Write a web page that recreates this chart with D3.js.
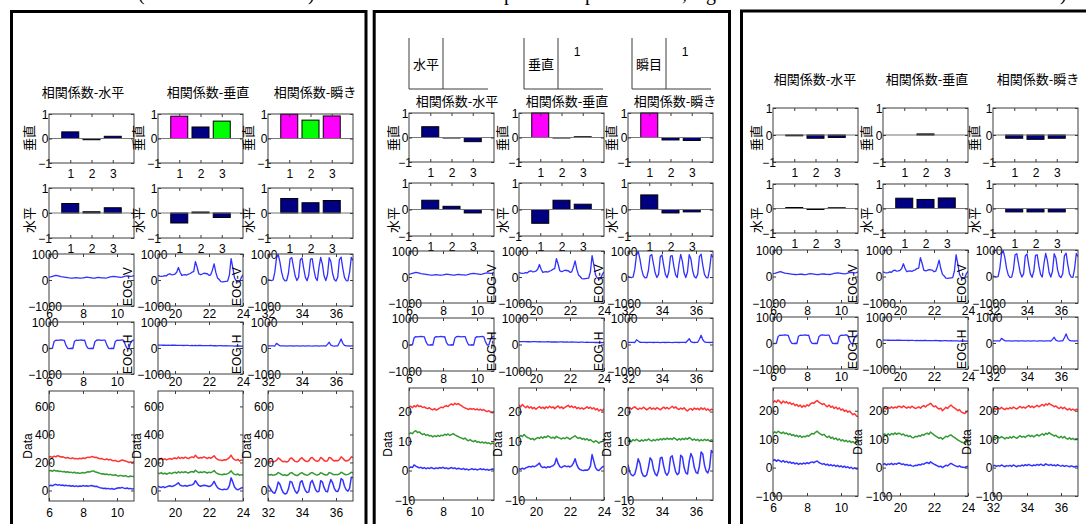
<!DOCTYPE html>
<html>
<head>
<meta charset="utf-8">
<script src="https://cdn.jsdelivr.net/npm/d3@7"></script>
<style>
  body { margin: 0; background: #fff; }
  svg text { font-family: "Liberation Sans", Arial, sans-serif; fill: #000; }
  svg text.jp { font-family: "Noto Sans CJK JP", sans-serif; }
</style>
</head>
<body>
<svg id="fig" width="1086" height="524"></svg>
<script>
// ---- chart values ----------------------------------------------------------
var colNames = ["相関係数-水平", "相関係数-垂直", "相関係数-瞬き"];
var barRowLabels = ["垂直", "水平"];
var barTicks = [1, 2, 3];
var eogRowLabels = ["EOG-V", "EOG-H"];
var windowStart = [6, 19, 32];                 // seconds, each window is 5 s
var timeTicks = [[6, 8, 10], [20, 22, 24], [32, 34, 36]];
var eogTicks = [-1000, 0, 1000];
var topLegendNames = ["水平", "垂直", "瞬目"];
var topLegendValues = ["", "1", "1"];
var captionGlyphs = ["(", ")", "p", "p", ",", "g", ")"];

// correlation coefficients: [row 垂直, row 水平] x column x bar
var corrA = [
  [[0.27, -0.05, 0.09], [0.91, 0.47, 0.71], [0.99, 0.75, 0.92]],
  [[0.38, 0.05, 0.21], [-0.40, 0.04, -0.18], [0.58, 0.41, 0.50]]
];
var corrB = [
  [[0.44, -0.02, -0.17], [1.0, -0.02, 0.03], [1.0, -0.10, -0.12]],
  [[0.35, 0.12, -0.13], [-0.52, 0.35, 0.20], [0.55, -0.13, -0.09]]
];
var corrC = [
  [[-0.03, -0.12, -0.09], [0.0, 0.04, 0.0], [-0.12, -0.16, -0.12]],
  [[0.04, -0.04, 0.03], [0.42, 0.37, 0.43], [-0.14, -0.14, -0.14]]
];

// EOG traces, one sample every 0.1 s
var eogV = [
  [110,120,140,160,180,170,150,130,120,110,100,90,80,75,70,80,90,85,75,70,80,95,110,100,90,80,70,75,90,100,95,85,80,75,85,100,120,130,140,130,120,110,100,110,130,150,160,150,140,150,170],
  [180,150,140,150,170,160,220,240,200,210,230,300,480,300,180,200,210,190,230,250,300,320,710,500,240,210,230,260,250,240,180,200,380,620,300,80,20,-60,-70,-60,-50,-40,200,820,480,80,-30,-80,-60,100,200],
  [20,0,-20,0,300,850,980,700,300,50,-30,-20,250,820,860,500,150,-20,100,780,850,450,100,-30,200,800,820,400,80,-20,500,870,600,150,-20,200,860,700,250,20,-40,100,780,880,450,100,-20,-30,300,870,750]
];
var eogH = [
  [-20,-20,-10,250,300,290,300,310,300,290,100,-10,-20,-10,-20,260,300,290,300,310,290,300,80,-10,-20,-10,-20,240,300,310,300,290,300,300,120,-10,-20,-10,-20,250,300,290,300,310,290,100,-20,-10,200,290,300],
  [110,108,112,106,110,104,108,102,106,110,105,100,104,98,102,96,100,104,98,95,99,94,98,92,96,100,95,90,94,88,92,96,90,86,90,84,88,92,86,82,86,80,84,78,82,76,80,74,78,72,76],
  [80,78,82,80,76,180,130,85,80,78,82,76,80,84,78,76,80,82,78,74,78,80,76,80,84,78,74,78,82,80,76,80,78,82,76,140,220,110,80,76,80,84,200,350,180,100,82,78,76,80,78]
];

// "Data" traces per panel (red, green, blue), one sample every 0.1 s
var dataA_R = [
  [238,242,236,245,240,248,244,239,241,236,232,235,230,228,233,226,229,224,230,227,232,228,234,238,236,242,240,235,237,230,226,229,222,220,225,218,222,216,212,215,208,206,212,218,214,210,206,200,204,198,205],
  [228,222,230,220,226,218,224,228,222,230,232,226,238,228,236,230,238,232,228,236,240,234,252,238,230,236,232,240,234,228,236,230,238,248,232,222,218,216,214,220,218,226,235,252,230,220,215,222,210,218,212],
  [212,206,210,204,208,215,232,224,212,205,208,203,210,228,232,218,208,204,210,226,234,220,210,206,212,230,236,222,212,208,214,236,228,214,208,212,236,232,218,210,214,212,220,240,230,216,210,214,222,240,236]
];
var dataA_G = [
  [140,143,137,145,139,141,136,138,133,136,130,134,128,131,126,130,124,127,122,125,128,124,130,134,132,138,140,134,130,126,122,118,120,114,117,112,115,110,108,112,106,104,108,105,102,106,100,98,103,99,101],
  [125,120,128,118,124,116,122,126,120,127,130,124,134,126,133,128,134,129,125,132,136,130,145,134,127,132,128,135,130,125,131,127,133,142,128,121,116,114,112,118,115,120,128,140,125,115,112,118,108,113,110],
  [115,110,114,108,112,116,128,122,114,108,112,106,112,124,128,118,110,106,112,122,128,118,112,108,113,124,128,120,113,110,115,127,122,114,110,113,128,124,116,112,115,113,118,130,124,116,112,115,120,130,127]
];
var dataA_B = [
  [32,38,34,40,44,38,42,36,39,34,37,33,36,30,34,29,33,28,32,30,35,31,34,30,33,36,32,28,30,24,20,18,14,16,12,15,10,14,8,12,16,20,18,22,17,14,18,12,15,10,14],
  [30,25,22,28,20,26,30,34,28,32,38,45,55,38,34,32,36,30,35,38,40,48,70,52,36,30,34,38,36,32,28,32,45,65,40,20,12,8,5,10,6,12,35,90,60,25,10,5,12,18,22],
  [40,20,0,-15,-20,10,60,45,10,-15,-25,-20,10,65,60,25,-5,-20,0,60,70,30,0,-15,-10,55,72,40,5,-10,-5,70,60,20,-5,-10,40,78,55,15,-5,-8,20,85,75,30,5,-5,15,95,90]
];
var dataB_R = [
  [21.5,21.8,21.3,22.0,21.6,22.2,21.7,21.9,21.4,21.6,21.2,21.0,21.3,20.8,20.6,21.0,20.5,20.8,21.2,21.5,21.3,21.8,22.0,21.7,22.3,22.6,22.2,22.8,22.4,22.7,22.3,21.9,21.5,21.2,21.0,20.7,21.1,20.8,21.0,20.6,20.9,20.5,20.8,20.4,20.7,20.2,20.0,20.3,19.8,19.6,19.9],
  [22.2,21.6,22.4,21.8,21.3,21.9,21.2,21.6,21.0,21.4,20.8,21.3,21.7,21.1,21.5,21.0,21.6,21.2,21.8,21.3,21.6,21.0,21.5,21.9,21.2,21.6,21.0,21.4,21.8,22.1,21.5,21.9,21.3,21.7,21.0,21.4,20.9,21.3,20.8,21.2,21.6,21.1,21.5,20.9,21.3,20.6,21.0,20.2,20.7,20.3,21.0],
  [21.0,21.4,20.8,21.3,21.6,21.1,20.7,21.2,20.9,21.5,21.1,20.6,21.0,21.4,20.8,21.2,20.7,21.3,21.0,20.6,21.1,21.5,21.0,21.4,20.9,21.3,21.8,21.2,21.6,21.0,20.7,21.2,20.8,21.3,20.6,20.2,20.8,21.0,20.5,21.2,20.8,21.1,20.6,21.3,20.7,21.2,20.5,20.9,20.3,20.8,20.6]
];
var dataB_G = [
  [12.3,12.8,12.5,13.2,13.5,12.9,13.1,12.6,12.2,12.5,11.9,12.2,11.7,11.9,11.4,11.8,11.5,11.9,11.6,12.0,11.8,12.3,12.0,12.4,11.9,12.2,12.5,12.1,11.8,11.5,11.2,11.0,10.7,11.0,10.4,10.1,10.5,10.0,9.8,10.2,9.6,9.8,9.4,9.7,9.3,9.6,9.2,9.4,9.0,9.3,9.1],
  [11.3,11.9,11.5,12.2,11.6,11.2,11.0,10.6,10.9,10.4,10.8,11.2,10.9,11.4,11.0,11.5,11.2,11.8,11.4,11.0,11.3,10.9,11.6,11.2,11.0,10.7,11.1,10.8,11.3,11.0,10.6,11.1,11.4,11.8,11.2,10.9,11.2,10.6,10.9,10.4,10.8,10.2,10.5,10.0,9.6,10.1,9.8,9.3,9.7,9.9,10.2],
  [10.0,10.4,9.8,10.5,10.1,10.6,10.2,9.9,10.4,10.0,10.5,10.2,10.7,10.3,10.0,10.5,10.1,10.6,10.3,10.8,10.4,10.9,10.5,11.0,10.6,10.9,10.5,11.1,10.7,10.3,10.8,10.4,10.9,10.5,11.0,10.6,11.2,10.8,10.3,10.7,10.2,10.6,10.0,10.5,10.1,10.6,10.2,10.5,10.0,10.4,10.2]
];
var dataB_B = [
  [0.8,1.2,1.0,1.9,1.5,1.2,0.9,1.1,0.7,1.0,0.6,0.9,0.7,1.0,0.8,0.6,0.9,0.7,1.0,0.8,1.1,0.7,0.9,0.6,0.8,1.0,0.7,0.9,0.5,0.8,0.6,0.4,0.7,0.3,0.5,0.2,0.4,0.6,0.3,0.5,0.2,0.4,0.6,0.3,0.5,0.2,0.4,0.1,0.3,0.5,0.4],
  [0.6,0.4,0.8,0.5,0.9,1.1,1.4,1.2,1.5,1.3,1.6,2.0,2.5,1.4,1.0,1.2,0.9,1.3,1.1,1.4,1.6,2.2,4.2,2.4,1.3,1.0,1.4,1.6,1.3,1.5,1.2,1.6,2.5,4.0,2.0,0.8,0.3,0.1,0.0,0.2,0.1,0.4,1.5,5.4,3.2,1.0,0.2,0.0,0.6,1.2,1.5],
  [2.0,-0.5,-1.5,-1.8,-1.2,1.0,4.0,2.5,-0.5,-1.8,-2.0,-1.5,1.0,4.3,3.5,0.5,-1.2,-1.8,0.0,4.2,4.5,1.5,-0.8,-1.6,-0.5,4.5,5.0,2.2,-0.4,-1.4,-0.8,5.2,4.6,1.0,-0.8,-1.2,3.0,5.8,4.4,1.0,-0.6,-1.0,1.5,6.3,5.6,1.8,-0.2,-0.8,1.0,6.8,6.0]
];
var dataC_R = [
  [228,235,230,238,232,226,234,228,232,225,229,222,226,218,222,215,220,212,218,214,221,217,224,228,226,232,236,230,226,222,225,218,214,220,212,216,208,213,206,210,202,206,198,202,195,199,192,186,190,182,178],
  [205,210,206,212,208,214,209,213,210,216,215,211,217,213,209,214,210,216,212,208,210,214,209,215,218,213,219,222,226,219,214,217,210,206,209,200,206,212,208,215,220,214,210,206,200,204,196,193,190,195,200],
  [203,208,205,210,206,212,207,204,209,206,211,207,213,209,206,211,215,210,213,209,214,218,212,216,211,215,219,214,218,222,217,224,220,226,221,219,214,217,211,208,213,207,212,206,203,208,202,206,201,205,203]
];
var dataC_G = [
  [120,126,122,128,124,120,125,119,122,116,119,113,116,110,114,108,112,106,110,108,113,110,116,120,118,124,128,122,118,114,117,110,106,111,103,107,100,104,97,101,94,98,92,96,90,94,88,92,86,90,88],
  [115,118,112,119,114,120,116,122,117,121,120,115,118,112,114,109,112,106,105,110,108,113,110,116,114,119,121,117,125,120,115,111,107,103,106,100,105,110,108,113,115,110,106,102,97,94,90,88,85,91,95],
  [102,106,103,108,104,109,105,101,106,103,108,104,110,106,103,108,112,107,110,106,111,114,109,113,108,112,116,111,115,119,114,121,117,123,118,115,111,114,108,105,110,104,109,103,100,105,99,103,98,102,100]
];
var dataC_B = [
  [24,28,22,27,24,20,25,19,22,17,20,15,18,13,16,11,15,12,16,13,17,14,18,20,17,21,23,18,15,12,14,9,12,7,10,6,9,4,8,3,6,1,5,0,3,-2,1,-4,-1,-5,-3],
  [10,14,9,13,11,15,10,14,12,16,15,11,13,9,11,7,9,6,5,8,7,11,9,13,12,16,18,14,20,16,12,9,6,3,5,0,4,8,6,11,15,11,8,5,3,6,2,1,0,3,5],
  [5,8,4,7,5,9,6,3,7,5,8,4,9,6,3,7,5,9,6,10,7,11,8,6,9,7,11,8,12,9,7,13,10,8,11,7,9,6,10,7,5,8,4,7,5,3,6,4,2,5,3]
];
var dataDomains = [[-75, 710], [-10, 28], [-100, 280]];
var dataTicks = [[0, 200, 400, 600], [-10, 0, 10, 20], [-100, 0, 100, 200]];

// ---- layout ----------------------------------------------------------------
var AW = 85, STEP = 0.1, INK = "#3c3c3c";
var layout = [
  {left: 11.5, right: 366, top: 11.5, cols: [49, 158, 268],
   rows: [[114, 163], [188, 238], [254, 306], [322, 374], [391, 501]],
   titleY: 97, titleX: [83, 208, 315],
   barLabX: [28, 137, 247], eogLabX: [null, 128, 237], dataLabX: [28, 137, 247],
   corr: corrA, R: dataA_R, G: dataA_G, B: dataA_B},
  {left: 374.2, right: 729.5, top: 11.5, cols: [409, 519, 628],
   rows: [[113, 162], [183, 236], [251, 303], [318, 371], [388, 500]],
   titleY: 106, titleX: [457, 567, 675],
   barLabX: [392, 501, 610], eogLabX: [null, 492, 599], dataLabX: [388, 498, 607],
   corr: corrB, R: dataB_R, G: dataB_G, B: dataB_B},
  {left: 741.5, right: 1100, top: 11, cols: [773, 883, 993],
   rows: [[108, 162], [184, 233], [250, 303], [317, 369], [388, 496]],
   titleY: 84, titleX: [815, 927, 1038],
   barLabX: [755, 865, 973], eogLabX: [null, 853, 962], dataLabX: [null, 858, 967],
   corr: corrC, R: dataC_R, G: dataC_G, B: dataC_B}
];
var barLabY = [138, 220];

var svg = d3.select("#fig");
var defs = svg.append("defs");
var clipN = 0;
var fmt = function (d) { return d3.format("d")(d); };
var barColor = d3.scaleThreshold().domain([0.7, 0.9]).range(["#000080", "#00ff00", "#ff00ff"]);

// caption line cut off at the top edge
var captionX = [138, 308, 504, 585, 682, 706, 1060];
svg.append("g").selectAll("text").data(captionGlyphs).join("text")
  .attr("x", function (d, i) { return captionX[i]; })
  .attr("y", 0)
  .style("font-family", "'Liberation Serif', serif")
  .style("font-size", "20px")
  .text(function (d) { return d; });

function axes(g, xs, ys, xt, yt, pad, showX) {
  var y0 = ys.range()[1], y1 = ys.range()[0];
  var x0 = xs.range()[0], x1 = xs.range()[1];
  var style = function (sel) {
    sel.select(".domain").remove();
    sel.attr("color", INK).attr("font-size", 12).attr("font-family", "'Liberation Sans', Arial, sans-serif");
    sel.selectAll("text").style("fill", "#000");
  };
  var b = g.append("g").attr("transform", "translate(0," + y1 + ")")
    .call(d3.axisBottom(xs).tickValues(xt).tickSize(-3).tickPadding(pad)
      .tickFormat(showX ? fmt : ""));
  style(b);
  g.append("g").attr("transform", "translate(0," + y0 + ")")
    .call(d3.axisTop(xs).tickValues(xt).tickSize(-3).tickFormat("")).call(style);
  var l = g.append("g").attr("transform", "translate(" + x0 + ",0)")
    .call(d3.axisLeft(ys).tickValues(yt).tickSize(-3).tickFormat(fmt));
  style(l);
  l.selectAll("text").attr("text-anchor", "middle").attr("x", -4).attr("dy", "0.35em");
  g.append("g").attr("transform", "translate(" + x1 + ",0)")
    .call(d3.axisRight(ys).tickValues(yt).tickSize(-3).tickFormat("")).call(style);
  g.append("rect")
    .attr("x", x0).attr("y", y0).attr("width", x1 - x0).attr("height", y1 - y0)
    .attr("fill", "none").attr("stroke", INK).attr("stroke-width", 1);
}

function clipFor(xs, ys) {
  var id = "clip" + (clipN++);
  defs.append("clipPath").attr("id", id).append("rect")
    .attr("x", xs.range()[0]).attr("y", ys.range()[1])
    .attr("width", xs.range()[1] - xs.range()[0]).attr("height", ys.range()[0] - ys.range()[1]);
  return "url(#" + id + ")";
}

function trace(g, xs, ys, vals, t0, color, w, op) {
  var line = d3.line()
    .x(function (d, i) { return xs(t0 + i * STEP); })
    .y(function (d) { return ys(d); });
  g.append("path").datum(vals)
    .attr("d", line).attr("fill", "none")
    .attr("stroke", color).attr("stroke-width", w).attr("stroke-opacity", op)
    .attr("stroke-linejoin", "round");
}

function yLabel(g, x, y, txt, anchor, jp) {
  g.append("text")
    .attr("class", jp ? "jp" : null)
    .attr("transform", "translate(" + x + "," + y + ") rotate(-90)")
    .attr("text-anchor", anchor)
    .attr("dominant-baseline", "central")
    .style("font-size", jp ? "13px" : "12px")
    .text(txt);
}

layout.forEach(function (L, p) {
  var g = svg.append("g");
  g.append("path")
    .attr("d", "M" + L.left + ",540V" + L.top + "H" + L.right + "V540")
    .attr("fill", "none").attr("stroke", "#000").attr("stroke-width", 3);

  colNames.forEach(function (name, c) {
    var x0 = L.cols[c];
    var xsBar = d3.scaleLinear().domain([0, 4]).range([x0, x0 + AW]);
    var xsT = d3.scaleLinear().domain([windowStart[c], windowStart[c] + 5]).range([x0, x0 + AW]);

    g.append("text").attr("class", "jp")
      .attr("x", L.titleX[c]).attr("y", L.titleY)
      .attr("text-anchor", "middle").style("font-size", "13px")
      .text(name);

    // correlation bar rows
    barRowLabels.forEach(function (lab, r) {
      var ys = d3.scaleLinear().domain([-1, 1]).range([L.rows[r][1], L.rows[r][0]]);
      var vals = L.corr[r][c];
      g.append("g").selectAll("rect").data(vals).join("rect")
        .attr("x", function (d, i) { return xsBar(barTicks[i] - 0.4); })
        .attr("width", xsBar(0.8) - xsBar(0))
        .attr("y", function (d) { return ys(Math.max(0, d)); })
        .attr("height", function (d) { return Math.abs(ys(d) - ys(0)); })
        .attr("fill", function (d) { return barColor(d); })
        .attr("stroke", "#000").attr("stroke-width", 1);
      g.append("line")
        .attr("x1", xsBar(0)).attr("x2", xsBar(4))
        .attr("y1", ys(0)).attr("y2", ys(0))
        .attr("stroke", "#777").attr("stroke-width", 1.2);
      axes(g, xsBar, ys, barTicks, [-1, 0, 1], 6, true);
      yLabel(g, L.barLabX[c], barLabY[r], lab, "middle", true);
    });

    // EOG rows
    [eogV, eogH].forEach(function (set, r) {
      var row = L.rows[2 + r];
      var ys = d3.scaleLinear().domain([-1000, 1000]).range([row[1], row[0]]);
      var cg = g.append("g").attr("clip-path", clipFor(xsT, ys));
      trace(cg, xsT, ys, set[c], windowStart[c], "#1a1aff", 1.3, 0.9);
      axes(g, xsT, ys, timeTicks[c], eogTicks, 3, true);
      if (L.eogLabX[c] !== null) yLabel(g, L.eogLabX[c], row[1], eogRowLabels[r], "start", false);
    });

    // Data row
    var row = L.rows[4];
    var ys = d3.scaleLinear().domain(dataDomains[p]).range([row[1], row[0]]);
    var cg = g.append("g").attr("clip-path", clipFor(xsT, ys));
    trace(cg, xsT, ys, L.R[c], windowStart[c], "#ff0000", 1.5, 0.8);
    trace(cg, xsT, ys, L.G[c], windowStart[c], "#008000", 1.5, 0.8);
    trace(cg, xsT, ys, L.B[c], windowStart[c], "#0000ff", 1.5, 0.8);
    axes(g, xsT, ys, timeTicks[c], dataTicks[p], 7, true);
    if (L.dataLabX[c] !== null) yLabel(g, L.dataLabX[c], (row[0] + row[1]) / 2, "Data", "middle", false);
  });
});

// small legend-like boxes at the top of the middle panel
var legX = [409, 524, 632];
var lg = svg.append("g").attr("stroke", INK).attr("fill", "none");
topLegendNames.forEach(function (name, i) {
  var x = legX[i];
  lg.append("path").attr("d", "M" + x + ",38V89H" + (x + 79));
  lg.append("line").attr("x1", x + 34).attr("x2", x + 34).attr("y1", 38).attr("y2", 89);
  svg.append("text").attr("class", "jp")
    .attr("x", x + 17).attr("y", 63).attr("text-anchor", "middle")
    .attr("dominant-baseline", "central").style("font-size", "13px")
    .text(name);
  svg.append("text")
    .attr("x", x + 53).attr("y", 52).attr("text-anchor", "middle")
    .attr("dominant-baseline", "central").style("font-size", "12px")
    .text(topLegendValues[i]);
});
</script>
</body>
</html>
